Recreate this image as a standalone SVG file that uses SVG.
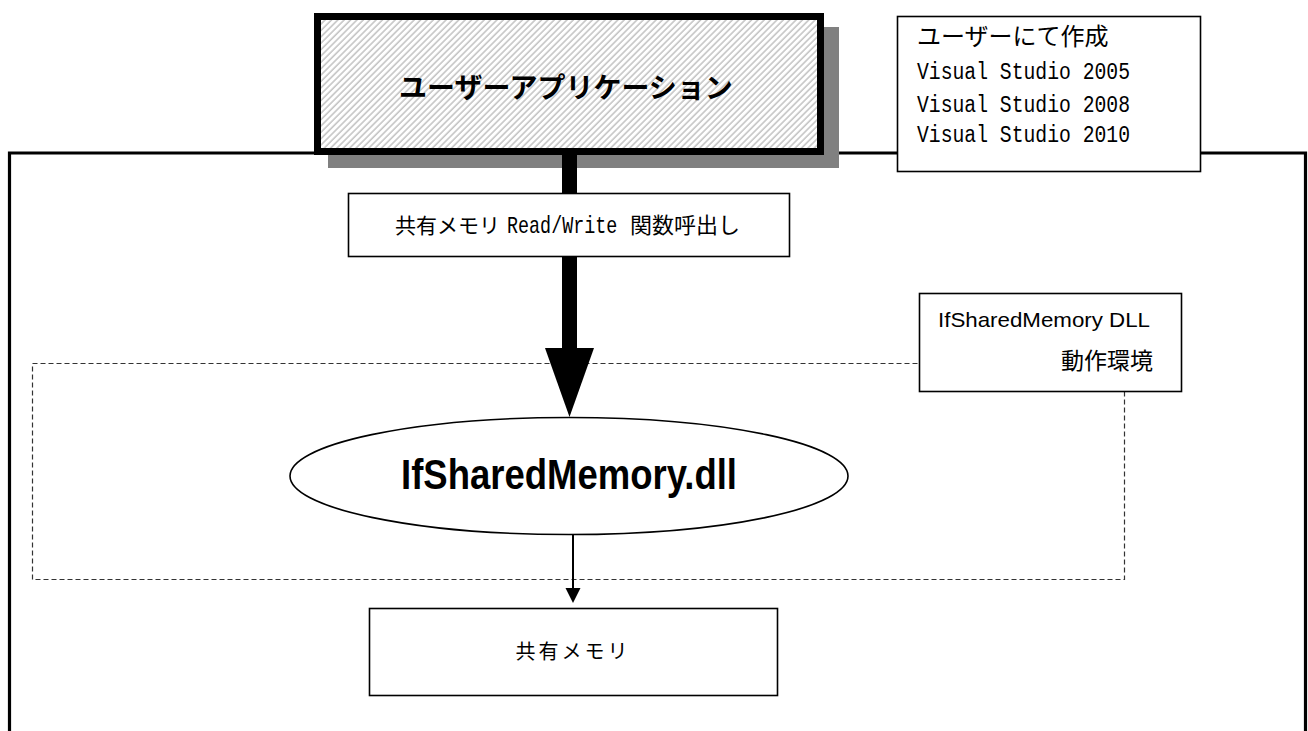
<svg xmlns="http://www.w3.org/2000/svg" width="1308" height="731" viewBox="0 0 1308 731">
  <style>
    .box { fill: #ffffff; stroke: #000000; stroke-width: 1.6; }
    .jp { font-family: "Noto Sans CJK JP", sans-serif; fill: #000000; }
    .mono { font-family: "Liberation Mono", "Noto Sans CJK JP", monospace; fill: #000000; }
    .sans { font-family: "Liberation Sans", "Noto Sans CJK JP", sans-serif; fill: #000000; }
  </style>
  <defs>
    <pattern id="hatch" patternUnits="userSpaceOnUse" width="4.5" height="4.5" patternTransform="rotate(45)">
      <rect width="4.5" height="4.5" fill="#ffffff"/>
      <line x1="1" y1="0" x2="1" y2="4.5" stroke="#bdbdbd" stroke-width="1.4"/>
    </pattern>
  </defs>

  <rect width="1308" height="731" fill="#ffffff"/>

  <!-- outer system frame (open at the bottom) -->
  <g id="system-frame">
    <path d="M9.5,731 V153 H1305.5 V731" fill="none" stroke="#000000" stroke-width="3.2"/>
  </g>

  <!-- DLL runtime area -->
  <g id="dll-area">
    <rect x="32.5" y="363.5" width="1092" height="216" fill="none" stroke="#333333" stroke-width="1.2" stroke-dasharray="5,3"/>
  </g>

  <!-- user application -->
  <g id="user-app">
    <rect x="328" y="27" width="511" height="141" fill="#808080"/>
    <rect x="317.5" y="16.5" width="503" height="135" fill="url(#hatch)" stroke="#000000" stroke-width="7"/>
    <text class="jp" x="566" y="98" font-size="28" font-weight="bold" text-anchor="middle">ユーザーアプリケーション</text>
  </g>

  <!-- note on development tools -->
  <g id="user-note">
    <rect class="box" x="897.5" y="16.5" width="303" height="155"/>
    <text class="jp" x="917" y="45" font-size="24">ユーザーにて作成</text>
    <text class="mono" x="917" y="79" font-size="23" textLength="213" lengthAdjust="spacingAndGlyphs">Visual Studio 2005</text>
    <text class="mono" x="917" y="112" font-size="23" textLength="213" lengthAdjust="spacingAndGlyphs">Visual Studio 2008</text>
    <text class="mono" x="917" y="142" font-size="23" textLength="213" lengthAdjust="spacingAndGlyphs">Visual Studio 2010</text>
  </g>

  <!-- connectors -->
  <g id="connectors">
    <rect x="562" y="155" width="15" height="194" fill="#000000"/>
    <polygon points="545,348 594,348 569.5,417" fill="#000000"/>
    <line x1="573" y1="535" x2="573" y2="590" stroke="#000000" stroke-width="2"/>
    <polygon points="565.5,588 580.5,588 573,603" fill="#000000"/>
  </g>

  <!-- function call label -->
  <g id="call-label">
    <rect class="box" x="348.5" y="193.5" width="441" height="63"/>
    <text class="jp" x="395" y="233" font-size="21">共有メモリ</text>
    <text class="mono" transform="translate(507 233) scale(0.8 1)" font-size="23">Read/Write</text>
    <text class="jp" x="630" y="233" font-size="22">関数呼出し</text>
  </g>

  <!-- DLL runtime environment note -->
  <g id="dll-env">
    <rect class="box" x="919.5" y="293.5" width="262" height="98"/>
    <text class="sans" x="938" y="327" font-size="21" textLength="212" lengthAdjust="spacingAndGlyphs">IfSharedMemory DLL</text>
    <text class="jp" x="1153" y="369" font-size="23" text-anchor="end">動作環境</text>
  </g>

  <!-- DLL -->
  <g id="dll">
    <ellipse class="box" cx="569" cy="476" rx="279" ry="58.5"/>
    <text class="sans" x="569" y="489" font-size="43" font-weight="bold" text-anchor="middle" textLength="336" lengthAdjust="spacingAndGlyphs">IfSharedMemory.dll</text>
  </g>

  <!-- shared memory -->
  <g id="shared-memory">
    <rect class="box" x="369.5" y="608.5" width="408" height="87"/>
    <text class="jp" x="573" y="659" font-size="20" letter-spacing="3" text-anchor="middle">共有メモリ</text>
  </g>
</svg>
